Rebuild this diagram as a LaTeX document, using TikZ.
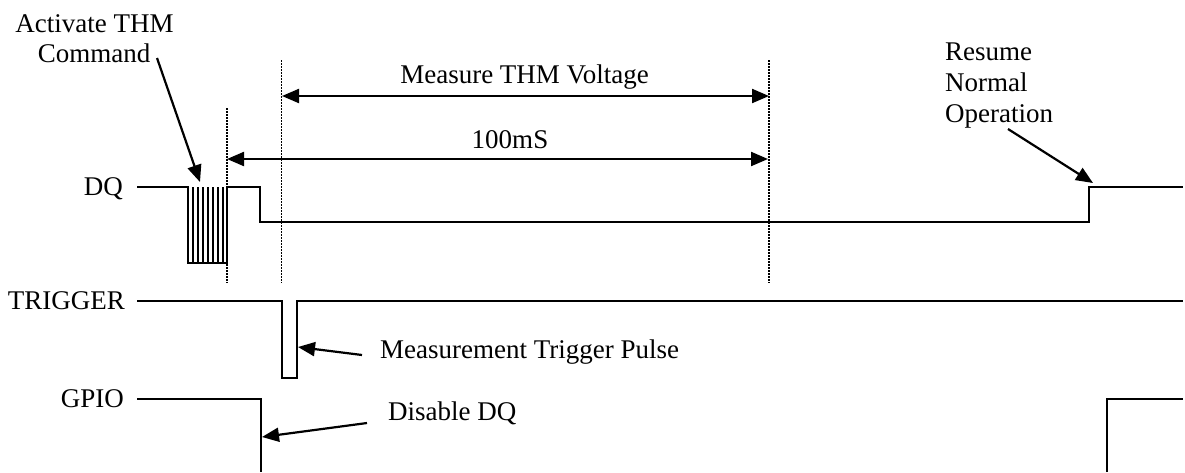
\documentclass[tikz,border=0pt]{standalone}
\usepackage{fontspec}
\setmainfont{Liberation Serif}
\usetikzlibrary{arrows.meta}
\begin{document}
\begin{tikzpicture}[x=1pt,y=-1pt,
  sig/.style={line width=2.2pt, line join=miter},
  dotline/.style={line width=1.5pt, dash pattern=on 1.5pt off 1.5pt},
  tip/.style={-{Triangle[length=17pt,width=14pt]}},
  arr/.style={line width=2.2pt, tip},
  darr/.style={line width=2.2pt, {Triangle[length=17pt,width=14pt]}-{Triangle[length=17pt,width=14pt]}},
  lbl/.style={inner sep=0pt, font=\fontsize{27}{31}\selectfont}]
\useasboundingbox (0,0) rectangle (1185,472);

% signal labels
\node[lbl, anchor=base east] (dq)   at (123,195)   {DQ};
\node[lbl, anchor=base east] (trg)  at (125,309.5) {TRIGGER};
\node[lbl, anchor=base east] (gpio) at (124,407.5) {GPIO};

% DQ signal
\draw[sig] (137,187) -- (188.3,187) -- (188.3,263.3) -- (226.7,263.3) -- (226.7,187)
  -- (260,187) -- (260,222) -- (1089,222) -- (1089,187) -- (1183,187);
\foreach \xx in {193.3,198.3,203.3,208.3,213.3,218.3,223.3}
  \draw[sig] (\xx,187) -- (\xx,263.3);

% TRIGGER signal
\draw[sig] (137,301) -- (282,301) -- (282,378) -- (297,378) -- (297,301) -- (1183,301);

% GPIO signal
\draw[sig] (137,399) -- (261,399) -- (261,472);
\draw[sig] (1107,472) -- (1107,399) -- (1183,399);

% dotted markers
\coordinate (d1t) at (227,108);   \coordinate (d1b) at (227,283);
\coordinate (d2t) at (281.5,60);  \coordinate (d2b) at (281.5,283);
\coordinate (d3t) at (769,60);    \coordinate (d3b) at (769,283);
\draw[dotline] (d1t) -- (d1b);
\draw[dotline] (d2t) -- (d2b);
\draw[dotline] (d3t) -- (d3b);

% dimension arrows
\coordinate (m1) at (282,96);  \coordinate (m2) at (769,96);
\coordinate (h1) at (227,159); \coordinate (h2) at (768,159);
\draw[darr] (m1) -- (m2);
\draw[darr] (h1) -- (h2);
\node[lbl, anchor=base] (meas) at (524.5,83) {Measure THM Voltage};
\node[lbl, anchor=base] (ms)   at (510,148)  {100mS};

% annotations
\node[lbl, anchor=base] (act) at (94.5,32) {Activate THM};
\node[lbl, anchor=base] (cmd) at (94,62)   {Command};
\coordinate (actT) at (157,58);  \coordinate (actH) at (200,182);
\draw[arr] (actT) -- (actH);

\node[lbl, anchor=base west] (res) at (945,60)  {Resume};
\node[lbl, anchor=base west] (nor) at (945,91)  {Normal};
\node[lbl, anchor=base west] (ope) at (945,122) {Operation};
\coordinate (resT) at (1008,129); \coordinate (resH) at (1093,183);
\draw[arr] (resT) -- (resH);

\node[lbl, anchor=base west] (mtp) at (380,358) {Measurement Trigger Pulse};
\coordinate (mtpT) at (362,355); \coordinate (mtpH) at (298,347);
\draw[arr] (mtpT) -- (mtpH);

\node[lbl, anchor=base west] (dis) at (388,420) {Disable DQ};
\coordinate (disT) at (367,423); \coordinate (disH) at (262,437);
\draw[arr] (disT) -- (disH);
\end{tikzpicture}
\end{document}
